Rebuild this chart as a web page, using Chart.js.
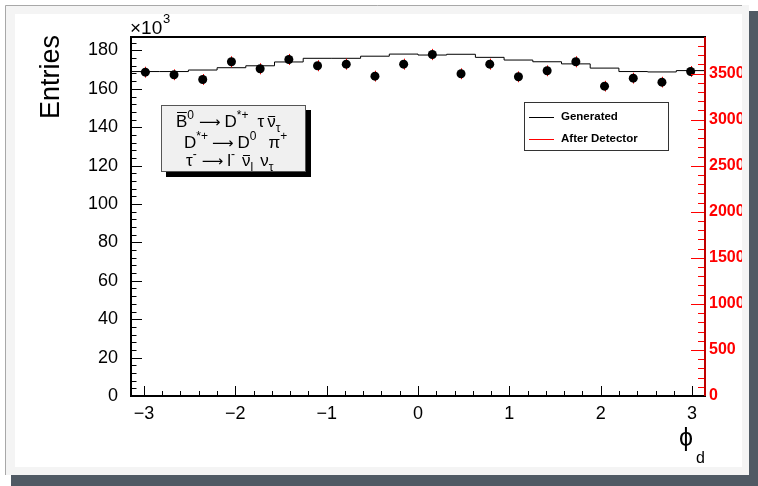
<!DOCTYPE html>
<html>
<head>
<meta charset="utf-8">
<script src="https://cdn.jsdelivr.net/npm/chart.js@4.4.0/dist/chart.umd.min.js"></script>
<style>
  html, body { margin: 0; padding: 0; background: #fff; }
  #wrap { width: 758px; height: 486px; }
</style>
</head>
<body>
<div id="wrap"><canvas id="phiChart" width="758" height="486"></canvas></div>
<script>
// phi_d 분포: [-pi, pi] 구간 20 bins
const nBins = 20;
const xMin = -Math.PI, xMax = Math.PI;

// Generated (왼쪽 축, x10^3 entries)
const generated = [169.0, 169.0, 169.8, 171.0, 172.0, 174.0, 175.9, 175.9, 177.0, 178.1,
                   177.6, 178.0, 176.4, 175.0, 174.1, 173.0, 170.8, 169.0, 168.8, 169.5];
// After Detector (오른쪽 축, entries)
const afterDetector = [3516, 3488, 3437, 3629, 3553, 3654, 3586, 3603, 3473, 3603,
                       3708, 3499, 3603, 3466, 3531, 3629, 3364, 3451, 3408, 3524];
const afterDetectorErr = [59, 59, 59, 60, 60, 60, 60, 60, 59, 60,
                          61, 59, 60, 59, 59, 60, 58, 59, 58, 59];

// 눈금 라벨
const xTicks = [-3, -2, -1, 0, 1, 2, 3];
const leftTicks = [0, 20, 40, 60, 80, 100, 120, 140, 160, 180];
const rightTicks = [0, 500, 1000, 1500, 2000, 2500, 3000, 3500];

const leftMax = 187;
const rightMax = 3898;
const seriesNames = ['Generated', 'After Detector'];

const FONT = '"Liberation Sans", Arial, Helvetica, sans-serif';
const bw = (xMax - xMin) / nBins;
const edges = generated.map((v, i) => ({ x: xMin + i * bw, y: v }));
edges.push({ x: xMax, y: generated[nBins - 1] });
const centers = afterDetector.map((v, i) => ({ x: xMin + (i + 0.5) * bw, y: v }));

const minus = v => (v < 0 ? '\u2212' + Math.abs(v) : String(v));
const setTicks = list => s => { s.ticks = list.map(v => ({ value: v })); };

// 캔버스 배경 (ROOT 스타일 테두리)
const background = {
  id: 'background',
  beforeDraw(chart) {
    const ctx = chart.ctx;
    ctx.save();
    ctx.fillStyle = '#ffffff';
    ctx.fillRect(0, 0, 758, 486);
    ctx.fillStyle = '#505a64';
    ctx.fillRect(11, 11, 747, 475);
    ctx.fillStyle = '#f4f4f4';
    ctx.fillRect(5, 5, 744, 470);
    ctx.strokeStyle = '#a8a8a8';
    ctx.lineWidth = 1;
    ctx.beginPath();
    ctx.moveTo(5.5, 475); ctx.lineTo(5.5, 5.5); ctx.lineTo(749, 5.5);
    ctx.stroke();
    ctx.fillStyle = '#ffffff';
    ctx.fillRect(15, 14, 727, 453);
    ctx.restore();
  }
};

// 빨간 에러바 (점 아래에)
const errorBars = {
  id: 'errorBars',
  beforeDatasetDraw(chart, args) {
    if (args.index !== 1) return;
    const ctx = chart.ctx, xs = chart.scales.x, ys = chart.scales.y2;
    ctx.save();
    ctx.strokeStyle = '#ff0000';
    ctx.lineWidth = 1;
    afterDetector.forEach((v, i) => {
      const px = Math.round(xs.getPixelForValue(centers[i].x)) + 0.5;
      ctx.beginPath();
      ctx.moveTo(px, ys.getPixelForValue(v - afterDetectorErr[i]));
      ctx.lineTo(px, ys.getPixelForValue(v + afterDetectorErr[i]));
      ctx.stroke();
    });
    ctx.restore();
  }
};

// TLatex 비슷한 텍스트 (윗첨자/아래첨자/윗줄)
function drawRich(ctx, parts, x, base, size) {
  parts.forEach(p => {
    x += p.gap || 0;
    let fs = size, dy = 0, fam = FONT;
    if (p.sup) { fs = Math.round(size * 0.68); dy = -size * 0.45; }
    if (p.sub) { fs = Math.round(size * 0.68); dy = size * 0.3; }
    if (p.arrow) { fs = size - 2; fam = '"DejaVu Sans", sans-serif'; dy = 0; }
    ctx.font = fs + 'px ' + fam;
    const w = ctx.measureText(p.t).width;
    ctx.fillText(p.t, x, base + dy);
    if (p.bar) {
      const by = Math.round(base + dy - size * p.bar) + 0.5;
      ctx.beginPath();
      ctx.moveTo(x + 1, by); ctx.lineTo(x + w - 0.5, by);
      ctx.stroke();
    }
    x += w;
  });
}

// 프레임, 안쪽 눈금, 범례, 텍스트 박스
const decorations = {
  id: 'decorations',
  afterDraw(chart) {
    const ctx = chart.ctx;
    const { left, right, top, bottom } = chart.chartArea;
    const xs = chart.scales.x, ys = chart.scales.y, ys2 = chart.scales.y2;
    ctx.save();

    // 오른쪽 라벨 잘림 (패드 경계)
    ctx.fillStyle = '#f4f4f4';
    ctx.fillRect(742, 5, 7, 470);
    ctx.fillStyle = '#505a64';
    ctx.fillRect(749, 11, 9, 475);

    // 눈금
    ctx.lineWidth = 1;
    ctx.strokeStyle = '#000';
    ctx.beginPath();
    for (let v = 0; v <= leftMax; v += 4) {
      const py = Math.round(ys.getPixelForValue(v)) + 0.5;
      const len = v % 20 === 0 ? 11 : 5.5;
      ctx.moveTo(left, py); ctx.lineTo(left + len, py);
    }
    for (let k = -15; k <= 15; k++) {
      const px = Math.round(xs.getPixelForValue(k / 5)) + 0.5;
      const len = k % 5 === 0 ? 10 : 5;
      ctx.moveTo(px, bottom); ctx.lineTo(px, bottom - len);
    }
    ctx.stroke();

    ctx.strokeStyle = '#ff0000';
    ctx.beginPath();
    for (let v = 0; v <= rightMax; v += 100) {
      const py = Math.round(ys2.getPixelForValue(v)) + 0.5;
      const len = v % 500 === 0 ? 14 : 7;
      ctx.moveTo(right, py); ctx.lineTo(right - len, py);
    }
    ctx.stroke();

    // 프레임
    ctx.strokeStyle = '#000';
    ctx.lineWidth = 2;
    ctx.strokeRect(left, top, right - left, bottom - top);
    ctx.strokeStyle = '#ff0000';
    ctx.lineWidth = 1.5;
    ctx.beginPath();
    ctx.moveTo(right, top); ctx.lineTo(right, bottom);
    ctx.stroke();

    // 축 제목
    ctx.fillStyle = '#000';
    ctx.save();
    ctx.translate(59, 35);
    ctx.rotate(-Math.PI / 2);
    ctx.font = '27px ' + FONT;
    ctx.textAlign = 'right';
    ctx.textBaseline = 'alphabetic';
    ctx.fillText('Entries', 0, 0);
    ctx.restore();

    ctx.textBaseline = 'alphabetic';
    ctx.textAlign = 'left';
    ctx.font = '19px ' + FONT;
    ctx.fillText('\u00d710', 130, 34);
    ctx.font = '13px ' + FONT;
    ctx.fillText('3', 163, 23);

    ctx.font = '25px ' + FONT;
    ctx.textAlign = 'right';
    ctx.fillText('\u03d5', 693, 446);
    ctx.font = '16px ' + FONT;
    ctx.fillText('d', 705, 463);

    // 범례
    ctx.fillStyle = '#fff';
    ctx.fillRect(524, 102, 144, 48);
    ctx.strokeStyle = '#333';
    ctx.lineWidth = 1;
    ctx.strokeRect(524.5, 102.5, 144, 48);
    const rows = [{ y: 117, c: '#000000' }, { y: 139, c: '#ff0000' }];
    ctx.font = 'bold 11.5px ' + FONT;
    ctx.textAlign = 'left';
    ctx.textBaseline = 'middle';
    rows.forEach((r, i) => {
      ctx.fillStyle = r.c;
      ctx.fillRect(529, r.y, 25, 1);
      ctx.fillStyle = '#000';
      ctx.fillText(seriesNames[i], 561, r.y);
    });

    // 붕괴 텍스트 박스
    ctx.fillStyle = '#000';
    ctx.fillRect(166, 110, 145, 67);
    ctx.fillStyle = '#f0f0f0';
    ctx.fillRect(161, 105, 145, 67);
    ctx.strokeStyle = '#555';
    ctx.strokeRect(161.5, 105.5, 144, 66);
    ctx.fillStyle = '#000';
    ctx.strokeStyle = '#000';
    ctx.textBaseline = 'alphabetic';
    ctx.textAlign = 'left';
    drawRich(ctx, [
      { t: 'B', bar: 0.86 }, { t: '0', sup: true },
      { t: '\u27f6', arrow: true, gap: 5 }, { t: 'D', gap: 4 }, { t: '*+', sup: true },
      { t: '\u03c4', gap: 9 }, { t: '\u03bd', bar: 0.66, gap: 3 }, { t: '\u03c4', sub: true }
    ], 176, 127, 17);
    drawRich(ctx, [
      { t: 'D' }, { t: '*+', sup: true },
      { t: '\u27f6', arrow: true, gap: 4 }, { t: 'D', gap: 4 }, { t: '0', sup: true },
      { t: '\u03c0', gap: 12 }, { t: '+', sup: true }
    ], 184, 148, 17);
    drawRich(ctx, [
      { t: '\u03c4' }, { t: '-', sup: true },
      { t: '\u27f6', arrow: true, gap: 5 }, { t: 'l', gap: 4 }, { t: '-', sup: true },
      { t: '\u03bd', bar: 0.66, gap: 7 }, { t: 'l', sub: true },
      { t: '\u03bd', gap: 7 }, { t: '\u03c4', sub: true }
    ], 186, 166, 17);

    ctx.restore();
  }
};

Chart.defaults.font.family = FONT;
Chart.defaults.color = '#000';

new Chart(document.getElementById('phiChart').getContext('2d'), {
  type: 'line',
  data: {
    datasets: [
      {
        label: seriesNames[0],
        data: edges,
        yAxisID: 'y',
        stepped: true,
        borderColor: '#000',
        borderWidth: 1,
        pointRadius: 0,
        fill: false,
        order: 1
      },
      {
        label: seriesNames[1],
        data: centers,
        yAxisID: 'y2',
        showLine: false,
        pointRadius: 4.5,
        pointStyle: 'circle',
        backgroundColor: '#000',
        borderColor: '#000',
        borderWidth: 0,
        order: 0
      }
    ]
  },
  options: {
    responsive: false,
    devicePixelRatio: 1,
    animation: false,
    layout: { padding: { top: 37, left: 0, right: 0, bottom: 0 } },
    plugins: { legend: { display: false }, tooltip: { enabled: false } },
    scales: {
      x: {
        type: 'linear',
        min: xMin,
        max: xMax,
        grid: { display: false, drawTicks: false },
        border: { display: false },
        afterFit: s => { s.height = 90; },
        afterBuildTicks: setTicks(xTicks),
        ticks: {
          autoSkip: false,
          maxRotation: 0,
          padding: 7,
          font: { size: 18 },
          color: '#000',
          callback: v => minus(v)
        }
      },
      y: {
        position: 'left',
        min: 0,
        max: leftMax,
        grid: { display: false, drawTicks: false },
        border: { display: false },
        afterFit: s => { s.width = 131; },
        afterBuildTicks: setTicks(leftTicks),
        ticks: {
          autoSkip: false,
          padding: 13,
          font: { size: 18 },
          color: '#000',
          callback: v => String(v)
        }
      },
      y2: {
        position: 'right',
        min: 0,
        max: rightMax,
        grid: { display: false, drawTicks: false },
        border: { display: false },
        afterFit: s => { s.width = 53; },
        afterBuildTicks: setTicks(rightTicks),
        ticks: {
          autoSkip: false,
          padding: 4,
          font: { size: 16, weight: 'bold' },
          color: '#ff0000',
          callback: v => String(v)
        }
      }
    }
  },
  plugins: [background, errorBars, decorations]
});
</script>
</body>
</html>
